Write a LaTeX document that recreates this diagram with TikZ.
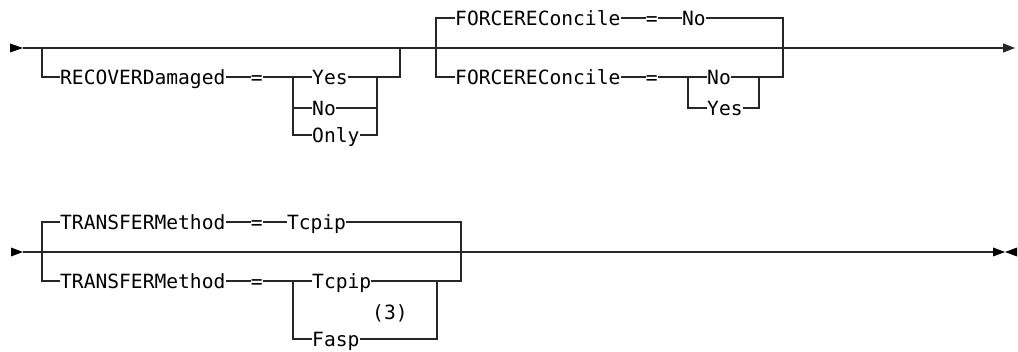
\documentclass[tikz,border=0pt]{standalone}
\usepackage{fontspec}
\newfontfamily\railfont{DejaVu Sans Mono}
\usetikzlibrary{positioning,arrows.meta,calc}

\begin{document}
\begin{tikzpicture}[x=1pt, y=1pt, >={Triangle[length=12pt,width=9pt]},
  rail/.style={line width=1.2pt, black!85},
  kw/.style={font=\railfont\fontsize{19.6pt}{20pt}\selectfont, inner sep=0pt,
    text height=14.3pt, text depth=0pt, anchor=west}]
  \useasboundingbox (0,0) rectangle (1018,-352);

  % Row 1: main line
  \coordinate (s1) at (23,-48);
  \coordinate (e1) at (1015,-48);
  \fill (s1) -- ++(-13,4.5) -- ++(0,-9) -- cycle;
  \draw[rail, ->] (s1) -- (e1);

  % RECOVERDamaged (optional)
  \coordinate (b1) at (42,-48);
  \coordinate (b2) at (400,-48);
  \node[kw] (recover) at (60,-77) {RECOVERDamaged};
  \node[kw, right=25pt of recover] (eqA) {=};
  \node[kw] (yesA) at (312,-77) {Yes};
  \node[kw] (noA) at (312,-108) {No};
  \node[kw] (onlyA) at (312,-135) {Only};
  \coordinate (jA) at (293,-77);
  \coordinate (kA) at (377,-77);
  \draw[rail] (b1) |- (recover) -- (eqA) -- (yesA) -| (b2);
  \draw[rail] (jA) |- (noA) -| (kA);
  \draw[rail] (jA) |- (onlyA) -| (kA);

  % FORCEREConcile (default No)
  \coordinate (c1) at (436,-48);
  \coordinate (c2) at (783,-48);
  \node[kw] (forceA) at (455,-18) {FORCEREConcile};
  \node[kw, right=25pt of forceA] (eqB) {=};
  \node[kw, right=24pt of eqB] (noB) {No};
  \draw[rail] (c1) |- (forceA) -- (eqB) -- (noB) -| (c2);

  \node[kw] (forceB) at (455,-77) {FORCEREConcile};
  \node[kw, right=25pt of forceB] (eqC) {=};
  \node[kw] (noC) at (707,-77) {No};
  \node[kw] (yesC) at (707,-108) {Yes};
  \coordinate (jC) at (688,-77);
  \coordinate (kC) at (759,-77);
  \draw[rail] (c1) |- (forceB) -- (eqC) -- (noC) -| (c2);
  \draw[rail] (jC) |- (yesC) -| (kC);

  % Row 2: main line
  \coordinate (s2) at (23,-252);
  \coordinate (e2) at (993,-252);
  \fill (s2) -- ++(-12,4.5) -- ++(0,-9) -- cycle;
  \draw[rail] (s2) -- (e2);
  \fill ([yshift=4.5pt]e2) -- ++(12,-4.5) -- ++(12,4.5) -- ++(0,-9)
    -- ++(-12,4.5) -- ++(-12,-4.5) -- cycle;

  % TRANSFERMethod (default Tcpip)
  \coordinate (d1) at (42,-252);
  \coordinate (d2) at (461,-252);
  \node[kw] (transA) at (60,-222) {TRANSFERMethod};
  \node[kw, right=25pt of transA] (eqD) {=};
  \node[kw, right=24pt of eqD] (tcpA) {Tcpip};
  \draw[rail] (d1) |- (transA) -- (eqD) -- (tcpA) -| (d2);

  \node[kw] (transB) at (60,-281) {TRANSFERMethod};
  \node[kw, right=25pt of transB] (eqE) {=};
  \node[kw] (tcpB) at (312,-281) {Tcpip};
  \node[kw] (fasp) at (312,-339) {Fasp};
  \node[kw] (note) at (372,-312) {(3)};
  \coordinate (jE) at (293,-281);
  \coordinate (kE) at (437,-281);
  \draw[rail] (d1) |- (transB) -- (eqE) -- (tcpB) -| (d2);
  \draw[rail] (jE) |- (fasp) -| (kE);
\end{tikzpicture}
\end{document}
